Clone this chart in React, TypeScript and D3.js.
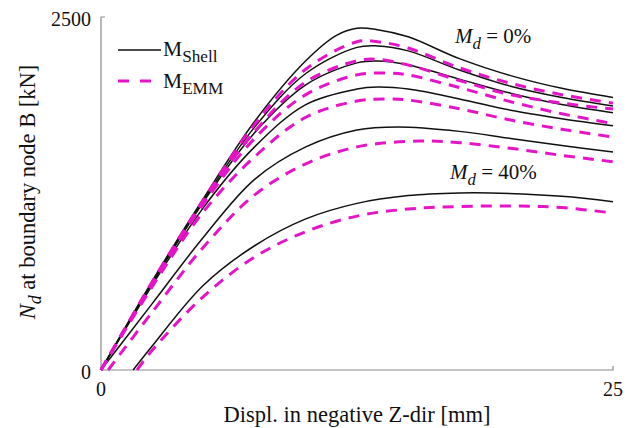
import React from 'react';
import * as d3 from 'd3';

// displacement [mm], N_d [kN]
const shell1 = [[0, 0], [2.5, 630], [5, 1215], [7.5, 1760], [10, 2190], [11.5, 2370], [12.5, 2420], [13.5, 2410], [15, 2360], [17.5, 2205], [20, 2085], [22.5, 1995], [25, 1930]];
const shell2 = [[0, 0], [2.5, 620], [5, 1200], [7.5, 1720], [10, 2100], [12.5, 2285], [13.5, 2295], [15, 2260], [17.5, 2125], [20, 2010], [22.5, 1930], [25, 1870]];
const shell3 = [[0, 0], [2.5, 615], [5, 1190], [7.5, 1680], [10, 2020], [12.5, 2175], [13.5, 2188], [15, 2160], [17.5, 2060], [20, 1960], [22.5, 1880], [25, 1822]];
const shell4 = [[0, 0], [2.5, 600], [5, 1150], [7.5, 1580], [10, 1880], [12.5, 1990], [13.5, 2004], [15, 1990], [17.5, 1920], [20, 1840], [22.5, 1780], [25, 1730]];
const shell5 = [[0, 0], [2.5, 470], [5, 940], [7.5, 1350], [10, 1580], [12.5, 1700], [14.5, 1721], [17.5, 1690], [20, 1640], [22.5, 1590], [25, 1544]];
const shell6 = [[1.57, 0], [2.5, 170], [5, 600], [7.5, 880], [10, 1070], [12.5, 1180], [15, 1235], [17.5, 1254], [19, 1254], [22.5, 1230], [25, 1192]];

const emm1 = [[0, 0], [2.5, 625], [5, 1205], [7.5, 1740], [10, 2130], [12.5, 2325], [13.5, 2325], [15, 2280], [17.5, 2140], [20, 2030], [22.5, 1950], [25, 1890]];
const emm2 = [[0, 0], [2.5, 615], [5, 1190], [7.5, 1690], [10, 2040], [12.5, 2190], [13.5, 2200], [15, 2160], [17.5, 2050], [20, 1950], [22.5, 1890], [25, 1848]];
const emm3 = [[0, 0], [2.5, 610], [5, 1175], [7.5, 1640], [10, 1950], [12.5, 2090], [14, 2103], [15, 2090], [17.5, 2000], [20, 1900], [22.5, 1815], [25, 1746]];
const emm4 = [[0, 0], [2.5, 590], [5, 1120], [7.5, 1510], [10, 1790], [12.5, 1905], [14, 1919], [15, 1912], [17.5, 1850], [20, 1770], [22.5, 1705], [25, 1650]];
const emm5 = [[0.35, 0], [2.5, 410], [5, 870], [7.5, 1240], [10, 1460], [12.5, 1580], [15.5, 1622], [17.5, 1610], [20, 1570], [22.5, 1520], [25, 1475]];
const emm6 = [[1.76, 0], [2.5, 140], [5, 520], [7.5, 800], [10, 980], [12.5, 1090], [15, 1140], [17.5, 1158], [20.5, 1161], [22.5, 1150], [25, 1112]];

const shellSeries = [shell1, shell2, shell3, shell4, shell5, shell6];
const emmSeries = [emm1, emm2, emm3, emm4, emm5, emm6];
const xTicks = [0, 25];
const yTicks = [0, 2500];

const W = 635;
const H = 428;
const FAMILY = "'Liberation Serif', 'Times New Roman', Tinos, FreeSerif";
const magenta = '#e614c8';
const black = '#111';

const x = d3.scaleLinear().domain([0, 25]).range([101, 613]);
const y = d3.scaleLinear().domain([0, 2500]).range([370, 17]);
const line = d3.line<number[]>()
  .x(d => x(d[0]))
  .y(d => y(d[1]))
  .curve(d3.curveCatmullRom.alpha(0.5));

function T(props: any) {
  const { size, children, ...rest } = props;
  return <text {...rest} fill={black} style={{ fontFamily: FAMILY, fontSize: size }}>{children}</text>;
}

function Sub({ main, sub, italic, rest }: { main: string; sub: string; italic?: boolean; rest?: string }) {
  const fs = italic ? 'italic' : 'normal';
  return (
    <>
      <tspan style={{ fontStyle: fs }}>{main}</tspan>
      <tspan style={{ fontStyle: fs, fontSize: '0.8em' }} dy={6}>{sub}</tspan>
      {rest ? <tspan dy={-6}>{rest}</tspan> : null}
    </>
  );
}

export default function App() {
  return (
    <svg width={W} height={H} style={{ position: 'absolute', left: 0, top: 0, background: '#fff' }}>
      {/* axes */}
      <g stroke="#8c8c8c" strokeWidth={1.2} fill="none">
        <path d={`M${x(0)},${y(0)}V${y(2500)}h4`} />
        <path d={`M${x(0)},${y(0)}H${x(25)}v-4`} />
      </g>

      {yTicks.map(t => (
        <T key={'y' + t} x={91} y={y(t) + 9} textAnchor="end" size={20}>{t}</T>
      ))}
      {xTicks.map(t => (
        <T key={'x' + t} x={x(t)} y={396} textAnchor="middle" size={20}>{t}</T>
      ))}
      <T x={357} y={422} textAnchor="middle" size={22.5}>Displ. in negative Z-dir [mm]</T>
      <T transform="translate(35,192) rotate(-90)" textAnchor="middle" size={22.5}>
        <Sub main="N" sub="d" italic rest=" at boundary node B [kN]" />
      </T>

      {/* legend */}
      <T x={163} y={56} size={21.5}><Sub main="M" sub="Shell" /></T>
      <T x={163} y={88} size={21.5}><Sub main="M" sub="EMM" /></T>
      <line x1={118} x2={161} y1={50} y2={50} stroke={black} strokeWidth={1.5} />
      <line x1={118} x2={161} y1={81} y2={81} stroke={magenta} strokeWidth={3} strokeDasharray="11,11" />

      {/* annotations */}
      <T x={455} y={43} size={21}><Sub main="M" sub="d" italic rest=" = 0%" /></T>
      <T x={450} y={179} size={21}><Sub main="M" sub="d" italic rest=" = 40%" /></T>

      {/* curves */}
      <g fill="none" stroke={black} strokeWidth={1.5}>
        {shellSeries.map((s, i) => <path key={i} d={line(s) || ''} />)}
      </g>
      <g fill="none" stroke={magenta} strokeWidth={3} strokeDasharray="11,8">
        {emmSeries.map((s, i) => <path key={i} d={line(s) || ''} />)}
      </g>
    </svg>
  );
}
